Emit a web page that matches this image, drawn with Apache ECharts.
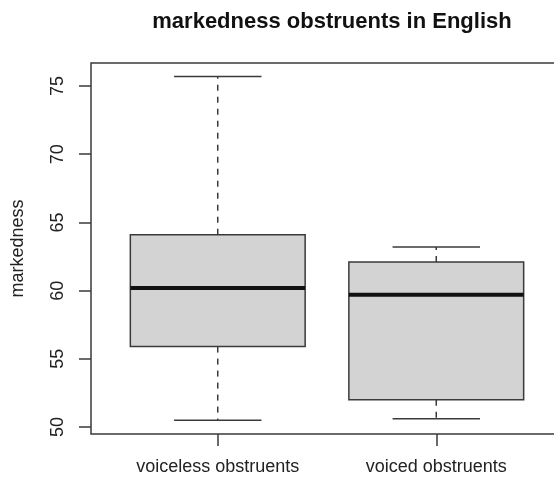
<!DOCTYPE html>
<html>
<head>
<meta charset="utf-8">
<script src="https://cdn.jsdelivr.net/npm/echarts@6/dist/echarts.min.js"></script>
<style>
  html, body { margin: 0; padding: 0; background: #fff; }
  #chart { width: 554px; height: 478px; }
</style>
</head>
<body>
<div id="chart"></div>
<script>
// groups and their five-number summaries
const categories = ['voiceless obstruents', 'voiced obstruents']
const whiskerLow = [50.5, 50.6]
const q1 = [55.9, 52.0]
const median = [60.2, 59.7]
const q3 = [64.1, 62.1]
const whiskerHigh = [75.7, 63.2]
const yTicks = [50, 55, 60, 65, 70, 75]

const lineColor = '#3a3a3a'
const boxData = categories.map((c, i) => [i + 1, whiskerLow[i], q1[i], median[i], q3[i], whiskerHigh[i]])

function renderBox(params, api) {
  const x = api.value(0)
  const halfBox = api.size([0.8, 0])[0] / 2
  const halfCap = halfBox / 2
  const pLow = api.coord([x, api.value(1)])
  const pQ1 = api.coord([x, api.value(2)])
  const pMed = api.coord([x, api.value(3)])
  const pQ3 = api.coord([x, api.value(4)])
  const pHigh = api.coord([x, api.value(5)])
  const cx = pQ1[0]
  const thin = { stroke: lineColor, lineWidth: 1.5 }
  const dashed = { stroke: lineColor, lineWidth: 1.5, lineDash: [6, 6] }
  return {
    type: 'group',
    children: [
      // whiskers
      { type: 'line', shape: { x1: cx, y1: pQ3[1], x2: cx, y2: pHigh[1] }, style: dashed },
      { type: 'line', shape: { x1: cx, y1: pQ1[1], x2: cx, y2: pLow[1] }, style: dashed },
      { type: 'line', shape: { x1: cx - halfCap, y1: pHigh[1], x2: cx + halfCap, y2: pHigh[1] }, style: thin },
      { type: 'line', shape: { x1: cx - halfCap, y1: pLow[1], x2: cx + halfCap, y2: pLow[1] }, style: thin },
      // box
      {
        type: 'rect',
        shape: { x: cx - halfBox, y: pQ3[1], width: halfBox * 2, height: pQ1[1] - pQ3[1] },
        style: { fill: '#d3d3d3', stroke: lineColor, lineWidth: 1.5 }
      },
      // median
      { type: 'line', shape: { x1: cx - halfBox, y1: pMed[1], x2: cx + halfBox, y2: pMed[1] }, style: { stroke: '#111', lineWidth: 4 } }
    ]
  }
}

const chart = echarts.init(document.getElementById('chart'))
chart.setOption({
  animation: false,
  title: {
    text: 'markedness obstruents in English',
    left: 327,
    textAlign: 'center',
    top: 6,
    textStyle: { fontFamily: 'Liberation Sans', fontWeight: 'bold', fontSize: 22, color: '#111' }
  },
  grid: {
    left: 91,
    width: 472,
    top: 63,
    bottom: 44,
    outerBoundsMode: 'none',
    containLabel: false,
    show: true,
    borderColor: lineColor,
    borderWidth: 1.5
  },
  xAxis: {
    type: 'value',
    min: 0.42,
    max: 2.58,
    splitLine: { show: false },
    axisLine: { show: false },
    axisTick: { show: true, customValues: [1, 2], length: 12, lineStyle: { color: lineColor, width: 1.5 } },
    axisLabel: {
      customValues: [1, 2],
      formatter: v => categories[Math.round(v) - 1],
      margin: 24,
      fontFamily: 'Liberation Sans',
      fontSize: 18,
      color: '#222'
    }
  },
  yAxis: {
    type: 'value',
    min: 49.49,
    max: 76.69,
    name: 'markedness',
    nameLocation: 'middle',
    nameGap: 64,
    nameTextStyle: { fontFamily: 'Liberation Sans', fontSize: 18, color: '#222' },
    splitLine: { show: false },
    axisLine: { show: false },
    axisTick: { show: true, customValues: yTicks, length: 12, lineStyle: { color: lineColor, width: 1.5 } },
    axisLabel: {
      customValues: yTicks,
      rotate: 90,
      margin: 24,
      fontFamily: 'Liberation Sans',
      fontSize: 18,
      color: '#222'
    }
  },
  series: [{
    type: 'custom',
    renderItem: renderBox,
    data: boxData,
    encode: { x: 0, y: [1, 2, 3, 4, 5] },
    clip: false
  }]
})
</script>
</body>
</html>
